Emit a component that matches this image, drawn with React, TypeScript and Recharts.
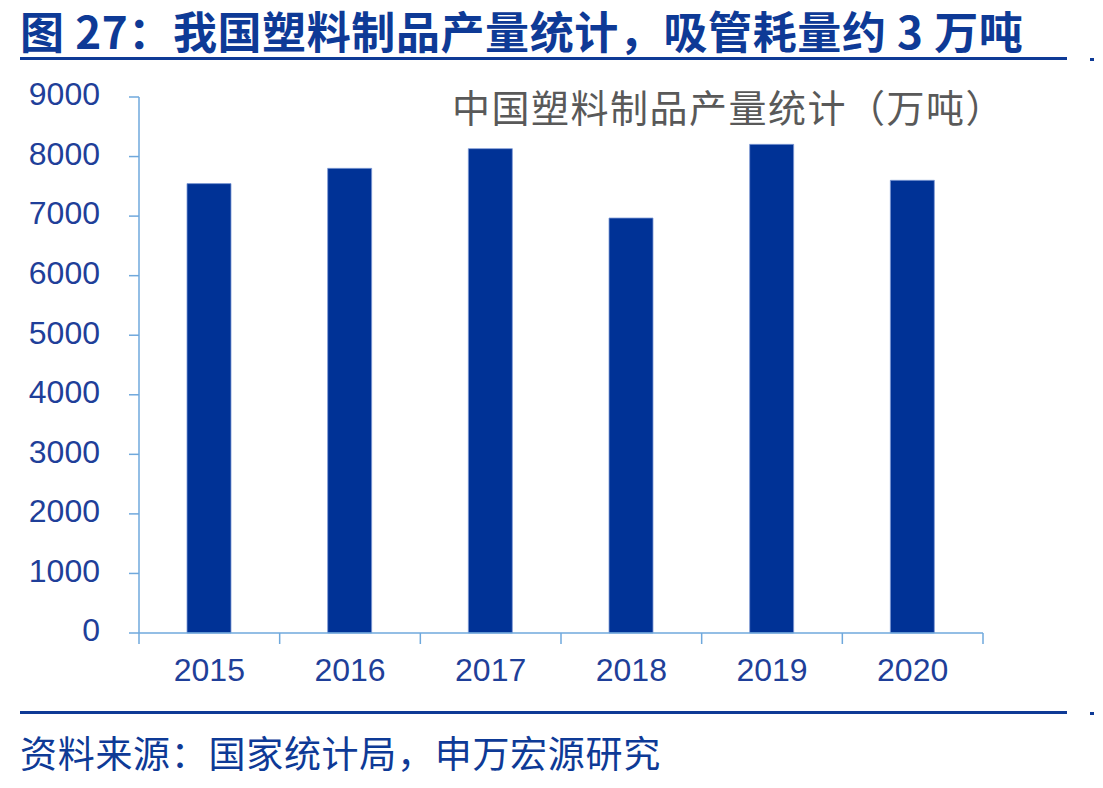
import React from "react";
import { BarChart, Bar, XAxis, YAxis } from "recharts";

const years = ["2015", "2016", "2017", "2018", "2019", "2020"];
const output = [7546, 7802, 8133, 6968, 8205, 7601];
const yTicks = [0, 1000, 2000, 3000, 4000, 5000, 6000, 7000, 8000, 9000];

const data = years.map((year, i) => ({ year, value: output[i] }));

const BLUE = "#0e3a96";
const AXIS = "#6fa8dc";
const BAND = (983 - 139) / years.length;
const AXIS_Y = 633;

const YearTick = (props: any) => {
  const { x, y, payload, index } = props;
  return (
    <g>
      <line x1={x - BAND / 2} y1={AXIS_Y} x2={x - BAND / 2} y2={AXIS_Y + 11} stroke={AXIS} strokeWidth={1.5} />
      {index === years.length - 1 && (
        <line x1={x + BAND / 2} y1={AXIS_Y} x2={x + BAND / 2} y2={AXIS_Y + 11} stroke={AXIS} strokeWidth={1.5} />
      )}
      <text x={x} y={y} dy="0.71em" textAnchor="middle" fill="#1f3f99" fontSize={32} fontFamily="Liberation Sans, Arial, sans-serif">
        {payload.value}
      </text>
    </g>
  );
};

const App = () => {
  return (
    <div style={{ position: "relative", margin: -8, width: 1103, height: 788, background: "#fff" }}>
      <div style={{ position: "absolute", left: 20, top: 4, width: 1060, height: 52, fontFamily: "Noto Sans CJK SC", fontWeight: 700, fontSize: 44, lineHeight: "52px", letterSpacing: 0.6, color: BLUE, whiteSpace: "nowrap" }}>
        图 27：我国塑料制品产量统计，吸管耗量约 3 万吨
      </div>
      <div style={{ position: "absolute", left: 20, top: 57, width: 1047, height: 3, background: BLUE }} />
      <div style={{ position: "absolute", left: 1090, top: 58, width: 4, height: 3, background: BLUE }} />

      <BarChart width={1103} height={788} data={data} margin={{ top: 97, right: 120, bottom: 0, left: 39 }}>
        <XAxis
          dataKey="year"
          height={155}
          axisLine={{ stroke: AXIS, strokeWidth: 1.5 }}
          tickLine={false}
          tickSize={10}
          tickMargin={15}
          tick={<YearTick />}
          interval={0}
        />
        <YAxis
          width={100}
          domain={[0, 9000]}
          ticks={yTicks}
          interval={0}
          axisLine={{ stroke: AXIS, strokeWidth: 1.5 }}
          tickLine={{ stroke: AXIS, strokeWidth: 1.5 }}
          tickSize={10}
          tickMargin={29}
          tick={{ fill: "#1f3f99", fontSize: 32, fontFamily: "Liberation Sans, Arial, sans-serif", dy: -3 }}
        />
        <Bar dataKey="value" fill="#003296" stroke="#7f9ad6" strokeWidth={0.8} barSize={44} isAnimationActive={false} />
      </BarChart>

      <div style={{ position: "absolute", left: 452, top: 84, fontFamily: "Noto Sans CJK SC", fontSize: 38, lineHeight: "44px", letterSpacing: 1.5, color: "#595959", whiteSpace: "nowrap" }}>
        中国塑料制品产量统计（万吨）
      </div>

      <div style={{ position: "absolute", left: 20, top: 711, width: 1047, height: 3, background: BLUE }} />
      <div style={{ position: "absolute", left: 1090, top: 712, width: 4, height: 3, background: BLUE }} />
      <div style={{ position: "absolute", left: 20, top: 730, fontFamily: "Noto Sans CJK SC", fontSize: 37, lineHeight: "44px", letterSpacing: 0.7, color: BLUE, whiteSpace: "nowrap" }}>
        资料来源：国家统计局，申万宏源研究
      </div>
    </div>
  );
};

export default App;
